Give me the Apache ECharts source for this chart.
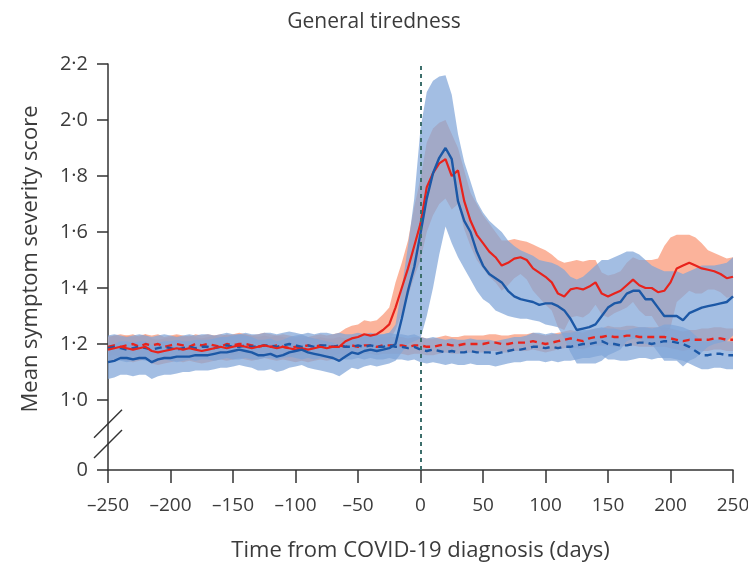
<!DOCTYPE html>
<html>
<head>
<meta charset="utf-8">
<script src="https://cdn.jsdelivr.net/npm/echarts@6.0.0/dist/echarts.min.js"></script>
<style>
  html, body { margin: 0; background: #fff; }
  #main { width: 748px; height: 566px; }
</style>
</head>
<body>
<div id="main"></div>
<script>
// days from diagnosis (sampled every 5 days)
const days = [-250,-245,-240,-235,-230,-225,-220,-215,-210,-205,-200,-195,-190,-185,-180,-175,-170,-165,-160,-155,
  -150,-145,-140,-135,-130,-125,-120,-115,-110,-105,-100,-95,-90,-85,-80,-75,-70,-65,-60,-55,
  -50,-45,-40,-35,-30,-25,-20,-15,-10,-5,0,5,10,15,20,25,30,35,40,45,
  50,55,60,65,70,75,80,85,90,95,100,105,110,115,120,125,130,135,140,145,
  150,155,160,165,170,175,180,185,190,195,200,205,210,215,220,225,230,235,240,245,250];

// red solid line + its band
const redPos = [1.18,1.185,1.19,1.185,1.18,1.185,1.19,1.175,1.17,1.175,1.18,1.185,1.18,1.185,1.18,1.175,1.18,1.185,1.19,1.185,
  1.19,1.195,1.19,1.185,1.19,1.195,1.19,1.185,1.19,1.185,1.18,1.185,1.18,1.185,1.19,1.185,1.19,1.19,1.21,1.22,
  1.225,1.235,1.23,1.235,1.25,1.27,1.33,1.40,1.47,1.55,1.63,1.76,1.81,1.845,1.86,1.80,1.82,1.71,1.64,1.59,
  1.56,1.53,1.51,1.48,1.49,1.505,1.51,1.50,1.47,1.455,1.44,1.42,1.38,1.37,1.395,1.40,1.395,1.405,1.42,1.38,
  1.37,1.38,1.39,1.41,1.43,1.41,1.40,1.40,1.385,1.39,1.42,1.47,1.48,1.49,1.48,1.47,1.465,1.46,1.45,1.435,1.44];
const redPosLo = [1.135,1.14,1.145,1.14,1.135,1.14,1.145,1.13,1.125,1.13,1.135,1.14,1.135,1.14,1.135,1.13,1.135,1.14,1.145,1.14,
  1.145,1.15,1.145,1.14,1.145,1.15,1.145,1.14,1.145,1.14,1.135,1.14,1.135,1.14,1.145,1.14,1.145,1.145,1.16,1.17,
  1.175,1.185,1.18,1.185,1.195,1.21,1.25,1.31,1.37,1.44,1.50,1.60,1.66,1.70,1.72,1.68,1.70,1.61,1.55,1.50,
  1.47,1.44,1.42,1.39,1.41,1.435,1.45,1.43,1.39,1.365,1.34,1.32,1.26,1.25,1.295,1.30,1.295,1.31,1.34,1.305,
  1.295,1.31,1.32,1.33,1.35,1.32,1.30,1.30,1.265,1.23,1.26,1.35,1.37,1.39,1.38,1.38,1.395,1.395,1.385,1.365,1.37];
const redPosHi = [1.225,1.23,1.235,1.23,1.225,1.23,1.235,1.22,1.215,1.22,1.225,1.23,1.225,1.23,1.225,1.22,1.225,1.23,1.235,1.23,
  1.235,1.24,1.235,1.23,1.235,1.24,1.235,1.23,1.235,1.23,1.225,1.23,1.225,1.23,1.235,1.23,1.235,1.24,1.255,1.265,
  1.27,1.285,1.28,1.285,1.305,1.33,1.42,1.49,1.57,1.69,1.79,1.92,1.97,1.99,2.00,1.95,1.90,1.82,1.74,1.70,
  1.66,1.63,1.60,1.57,1.57,1.575,1.57,1.565,1.555,1.545,1.535,1.52,1.50,1.49,1.495,1.50,1.495,1.50,1.50,1.455,
  1.445,1.45,1.46,1.49,1.51,1.50,1.50,1.50,1.505,1.55,1.58,1.59,1.59,1.59,1.58,1.56,1.535,1.525,1.515,1.505,1.51];

// blue solid line + its band
const bluePos = [1.135,1.14,1.15,1.15,1.145,1.15,1.15,1.135,1.145,1.15,1.15,1.155,1.155,1.155,1.16,1.16,1.16,1.165,1.17,1.17,
  1.175,1.18,1.175,1.17,1.16,1.16,1.165,1.155,1.16,1.17,1.175,1.18,1.17,1.165,1.16,1.155,1.15,1.14,1.155,1.17,
  1.165,1.175,1.18,1.175,1.18,1.185,1.20,1.29,1.39,1.475,1.595,1.72,1.81,1.865,1.90,1.86,1.71,1.64,1.60,1.53,
  1.48,1.45,1.435,1.42,1.39,1.37,1.36,1.355,1.35,1.34,1.345,1.345,1.335,1.32,1.29,1.25,1.255,1.26,1.27,1.30,
  1.33,1.345,1.35,1.38,1.39,1.39,1.36,1.36,1.33,1.30,1.30,1.30,1.285,1.31,1.32,1.33,1.335,1.34,1.345,1.35,1.37];
const bluePosLo = [1.075,1.08,1.09,1.09,1.085,1.09,1.09,1.075,1.085,1.09,1.09,1.095,1.10,1.10,1.105,1.105,1.105,1.11,1.115,1.115,
  1.12,1.125,1.12,1.115,1.105,1.105,1.11,1.10,1.105,1.115,1.12,1.125,1.115,1.11,1.105,1.10,1.095,1.085,1.10,1.115,
  1.11,1.12,1.125,1.12,1.125,1.13,1.14,1.17,1.20,1.21,1.22,1.30,1.40,1.52,1.62,1.56,1.51,1.47,1.43,1.39,
  1.36,1.345,1.32,1.31,1.30,1.295,1.29,1.29,1.285,1.28,1.27,1.265,1.26,1.22,1.17,1.13,1.13,1.13,1.13,1.14,
  1.16,1.17,1.18,1.21,1.22,1.22,1.20,1.20,1.17,1.14,1.14,1.14,1.12,1.14,1.15,1.17,1.19,1.20,1.205,1.21,1.23];
const bluePosHi = [1.195,1.20,1.21,1.21,1.205,1.21,1.21,1.195,1.205,1.21,1.21,1.215,1.21,1.21,1.215,1.215,1.215,1.22,1.225,1.225,
  1.23,1.235,1.23,1.225,1.215,1.215,1.22,1.21,1.215,1.225,1.23,1.235,1.225,1.22,1.215,1.21,1.205,1.195,1.21,1.225,
  1.22,1.23,1.235,1.23,1.235,1.24,1.27,1.40,1.55,1.72,1.97,2.10,2.14,2.155,2.16,2.09,1.95,1.85,1.78,1.71,
  1.67,1.64,1.62,1.60,1.57,1.55,1.535,1.525,1.515,1.50,1.495,1.49,1.48,1.465,1.44,1.43,1.44,1.46,1.48,1.50,
  1.50,1.51,1.52,1.53,1.53,1.52,1.50,1.48,1.47,1.46,1.46,1.46,1.45,1.46,1.47,1.48,1.48,1.48,1.485,1.49,1.51];

// dashed lines + half-width of their bands
const redNeg = [1.19,1.195,1.19,1.195,1.20,1.19,1.20,1.195,1.20,1.19,1.195,1.20,1.195,1.19,1.20,1.195,1.20,1.195,1.19,1.20,
  1.195,1.20,1.20,1.195,1.19,1.195,1.19,1.195,1.19,1.185,1.19,1.19,1.195,1.19,1.195,1.19,1.19,1.195,1.19,1.195,
  1.19,1.195,1.195,1.19,1.195,1.195,1.195,1.195,1.19,1.195,1.195,1.19,1.19,1.195,1.20,1.195,1.195,1.20,1.20,1.20,
  1.20,1.205,1.205,1.20,1.20,1.205,1.205,1.205,1.21,1.205,1.20,1.205,1.21,1.215,1.22,1.215,1.21,1.22,1.225,1.225,
  1.23,1.225,1.225,1.23,1.23,1.225,1.225,1.225,1.225,1.225,1.22,1.215,1.21,1.215,1.215,1.215,1.215,1.22,1.22,1.215,1.215];
const redNegErr = [0.035,0.035,0.035,0.035,0.035,0.035,0.035,0.035,0.035,0.035,0.035,0.035,0.035,0.035,0.035,0.035,0.035,0.035,0.035,0.035,
  0.035,0.035,0.035,0.035,0.035,0.035,0.035,0.035,0.035,0.035,0.03,0.03,0.03,0.03,0.03,0.03,0.03,0.03,0.03,0.03,
  0.03,0.03,0.03,0.03,0.03,0.03,0.03,0.03,0.03,0.03,0.03,0.03,0.03,0.03,0.03,0.03,0.03,0.03,0.03,0.03,
  0.03,0.03,0.03,0.03,0.03,0.03,0.03,0.03,0.03,0.03,0.03,0.03,0.03,0.03,0.03,0.03,0.03,0.03,0.03,0.03,
  0.035,0.035,0.035,0.035,0.035,0.035,0.035,0.035,0.035,0.035,0.035,0.035,0.035,0.035,0.035,0.04,0.04,0.04,0.04,0.04,0.04];
const blueNeg = [1.185,1.19,1.185,1.18,1.185,1.19,1.185,1.18,1.185,1.19,1.185,1.18,1.185,1.19,1.185,1.19,1.19,1.185,1.19,1.195,
  1.19,1.19,1.195,1.19,1.19,1.195,1.195,1.19,1.195,1.20,1.195,1.19,1.195,1.19,1.195,1.195,1.19,1.195,1.19,1.19,
  1.195,1.19,1.195,1.19,1.19,1.195,1.19,1.19,1.185,1.19,1.18,1.175,1.18,1.175,1.17,1.175,1.17,1.17,1.175,1.17,
  1.17,1.17,1.165,1.17,1.175,1.18,1.18,1.185,1.19,1.19,1.185,1.19,1.185,1.19,1.19,1.195,1.20,1.20,1.205,1.21,
  1.20,1.20,1.195,1.195,1.20,1.205,1.205,1.20,1.205,1.21,1.21,1.205,1.20,1.19,1.175,1.16,1.16,1.165,1.165,1.16,1.16];
const blueNegErr = [0.045,0.045,0.045,0.045,0.045,0.045,0.045,0.045,0.045,0.045,0.045,0.045,0.045,0.045,0.045,0.045,0.045,0.045,0.045,0.045,
  0.045,0.045,0.045,0.045,0.045,0.045,0.045,0.045,0.045,0.045,0.045,0.045,0.045,0.045,0.045,0.045,0.045,0.045,0.045,0.045,
  0.045,0.045,0.045,0.045,0.045,0.045,0.045,0.045,0.045,0.045,0.045,0.045,0.045,0.045,0.045,0.045,0.045,0.045,0.045,0.045,
  0.045,0.045,0.045,0.045,0.045,0.045,0.045,0.045,0.05,0.05,0.05,0.05,0.05,0.05,0.05,0.05,0.05,0.05,0.05,0.05,
  0.055,0.055,0.055,0.055,0.055,0.055,0.055,0.055,0.055,0.06,0.06,0.06,0.06,0.06,0.055,0.05,0.05,0.05,0.05,0.05,0.05];

// axis ticks; the "0" tick sits at 0.75 on the compressed (broken) axis
const xTicks = [-250,-200,-150,-100,-50,0,50,100,150,200,250];
const yTickValues = [0, 1.0, 1.2, 1.4, 1.6, 1.8, 2.0, 2.2];
const zeroPos = 0.75;

const RED = '#e8231c';
const BLUE = '#1c58a6';
const TXT = '#3b3b3b';
const FONT = 'Open Sans';
const BAND_R = '#f99a7a';
const BAND_B = '#7fa5d8';

const chart = echarts.init(document.getElementById('main'));

const cats = days.map(String);
const isTick = idx => xTicks.indexOf(days[idx]) >= 0;

function band(id, lo, hi, color, opacity) {
  return [
    { name: id + 'lo', type: 'line', stack: id, data: lo, symbol: 'none',
      lineStyle: { opacity: 0 }, silent: true },
    { name: id + 'hi', type: 'line', stack: id, data: hi.map((v, i) => +(v - lo[i]).toFixed(4)), symbol: 'none',
      lineStyle: { opacity: 0 }, areaStyle: { color: color, opacity: opacity }, silent: true }
  ];
}

const redNegLo = redNeg.map((v, i) => v - redNegErr[i]);
const redNegHi = redNeg.map((v, i) => v + redNegErr[i]);
const blueNegLo = blueNeg.map((v, i) => v - blueNegErr[i]);
const blueNegHi = blueNeg.map((v, i) => v + blueNegErr[i]);

const yAxisPos = yTickValues.map(v => v === 0 ? zeroPos : v);

chart.setOption({
  animation: false,
  title: {
    text: 'General tiredness', left: 'center', top: 7,
    textStyle: { fontFamily: FONT, fontSize: 21, fontWeight: 'normal', color: TXT }
  },
  grid: { left: 108, right: 15, top: 64, bottom: 96, outerBoundsMode: 'none', containLabel: false },
  xAxis: {
    type: 'category', data: cats, boundaryGap: false,
    name: 'Time from COVID-19 diagnosis (days)', nameLocation: 'middle', nameGap: 70,
    nameTextStyle: { fontFamily: FONT, fontSize: 22, color: TXT },
    axisLine: { onZero: false, lineStyle: { color: '#333', width: 1.5 } },
    axisTick: { length: 13, interval: (idx) => isTick(idx), lineStyle: { color: '#333', width: 1.5 } },
    axisLabel: {
      margin: 26, fontFamily: FONT, fontSize: 19, color: TXT,
      interval: (idx) => isTick(idx),
      formatter: v => (+v < 0 ? '\u2013' + Math.abs(+v) : v)
    },
    splitLine: { show: false }
  },
  yAxis: {
    type: 'value', min: zeroPos, max: 2.2,
    name: 'Mean symptom severity score', nameLocation: 'middle', nameGap: 66,
    nameTextStyle: { fontFamily: FONT, fontSize: 22, color: TXT, padding: [0, 0, 0, 16] },
    axisLine: { show: true, onZero: false, lineStyle: { color: '#333', width: 1.5 } },
    axisTick: { show: true, length: 11, customValues: yAxisPos, lineStyle: { color: '#333', width: 1.5 } },
    axisLabel: {
      margin: 20, fontFamily: FONT, fontSize: 20, color: TXT, customValues: yAxisPos,
      formatter: v => v < 0.9 ? '0' : v.toFixed(1).replace('.', '\u00b7')
    },
    splitLine: { show: false }
  },
  series: [
    ...band('rp', redPosLo, redPosHi, BAND_R, 0.75),
    ...band('rn', redNegLo, redNegHi, BAND_R, 0.75),
    ...band('bp', bluePosLo, bluePosHi, BAND_B, 0.72),
    ...band('bn', blueNegLo, blueNegHi, BAND_B, 0.72),
    { name: 'redNeg', type: 'line', data: redNeg, symbol: 'none',
      lineStyle: { color: RED, width: 2.4, type: [7, 5] } },
    { name: 'blueNeg', type: 'line', data: blueNeg, symbol: 'none',
      lineStyle: { color: BLUE, width: 2.4, type: [7, 5] } },
    { name: 'redPos', type: 'line', data: redPos, symbol: 'none',
      lineStyle: { color: RED, width: 2.2 } },
    { name: 'bluePos', type: 'line', data: bluePos, symbol: 'none',
      lineStyle: { color: BLUE, width: 2.4 },
      markLine: {
        silent: true, symbol: 'none', label: { show: false },
        lineStyle: { color: '#3d6f6c', width: 2, type: [4, 4] },
        data: [{ xAxis: '0' }]
      } }
  ]
});

// axis break marks (two slashes across the y axis)
const b1 = chart.convertToPixel({ gridIndex: 0 }, ['-250', 0.915]);
const b2 = chart.convertToPixel({ gridIndex: 0 }, ['-250', 0.843]);
chart.setOption({
  graphic: [b1, b2].map(p => ({
    type: 'line',
    shape: { x1: p[0] - 14, y1: p[1] + 14, x2: p[0] + 14, y2: p[1] - 14 },
    style: { stroke: '#333', lineWidth: 1.5 }
  }))
});
</script>
</body>
</html>
